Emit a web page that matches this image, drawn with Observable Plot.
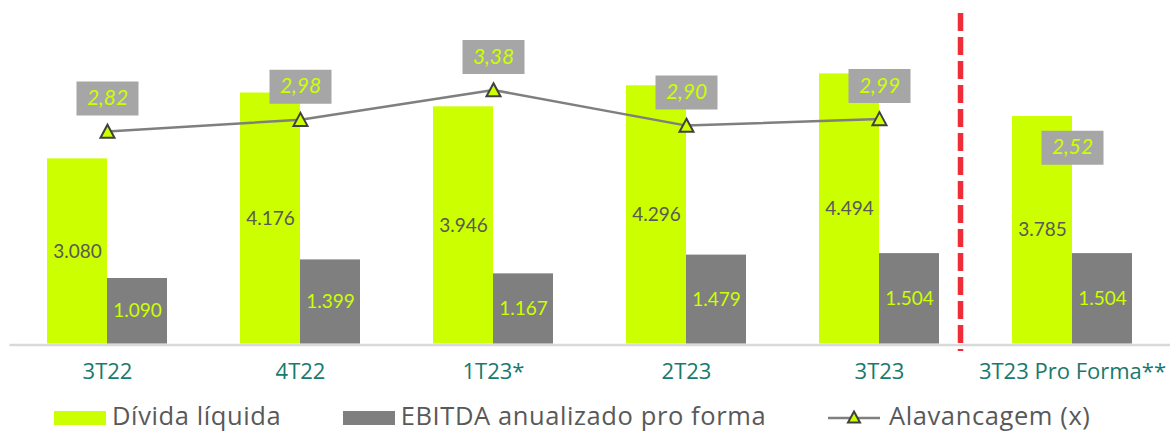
<!DOCTYPE html>
<html>
<head>
<meta charset="utf-8">
<script src="https://cdn.jsdelivr.net/npm/d3@7"></script>
<script src="https://cdn.jsdelivr.net/npm/@observablehq/plot@0.6"></script>
<style>
  html, body { margin: 0; padding: 0; background: #fff; }
  body { width: 1170px; height: 432px; position: relative; overflow: hidden; font-family: "Open Sans", Lato, sans-serif; }
  #chart { position: absolute; left: 0; top: 0; }
  #legend { position: absolute; left: 0; top: 398px; width: 1170px; height: 34px; }
  .item { position: absolute; top: 0; height: 34px; display: flex; align-items: center; color: #595959; font-size: 25.5px; line-height: 30px; font-weight: 400; letter-spacing: 0.6px; white-space: nowrap; }
  .sw { display: inline-block; width: 52px; height: 14px; margin-right: 6px; margin-top: 6px; }
  .lg { margin-right: 9px; margin-top: 6px; }
</style>
</head>
<body>
<div id="chart"></div>
<div id="legend"></div>
<script>
const categories = ["3T22", "4T22", "1T23*", "2T23", "3T23", "3T23 Pro Forma**"];
const dividaLiquida = [3080, 4176, 3946, 4296, 4494, 3785];
const ebitdaAnualizado = [1090, 1399, 1167, 1479, 1504, 1504];
const alavancagem = [2.82, 2.98, 3.38, 2.90, 2.99, 2.52];
const seriesNames = ["Dívida líquida", "EBITDA anualizado pro forma", "Alavancagem (x)"];

const LIME = "#ccff00", GRAY = "#7f7f7f", DARK = "#595959", TEAL = "#177a6c";

const rows = categories.map((c, i) => ({cat: c, div: dividaLiquida[i], ebitda: ebitdaAnualizado[i], lev: alavancagem[i]}));
const lineRows = rows.slice(0, 5);
const proForma = rows.slice(5);

const yMax = 5715;
// secondary axis for leverage, mapped onto the primary y domain
const y2 = d3.scaleLinear([-0.05, 4.59], [0, yMax]);

const fmtInt = v => d3.format(",")(v).replace(/,/g, ".");
const fmtDec = v => d3.format(".2f")(v).replace(".", ",");

const boxSymbol = { draw(ctx) { ctx.rect(-31, -17, 62, 34); } };
const triSymbol = { draw(ctx) { ctx.moveTo(0, -6.8); ctx.lineTo(7, 6.2); ctx.lineTo(-7, 6.2); ctx.closePath(); } };

const chart = Plot.plot({
  width: 1170,
  height: 398,
  marginTop: 0,
  marginBottom: 54.5,
  marginLeft: 9.5,
  marginRight: 0,
  style: { fontFamily: "Lato, 'Open Sans', sans-serif", background: "#fff" },
  x: { domain: categories, paddingInner: 0.38, paddingOuter: 0.19, label: null },
  y: { domain: [0, yMax], axis: null },
  marks: [
    Plot.ruleY([0], { stroke: "#d9d9d9", strokeWidth: 2.5, dy: 1 }),
    Plot.barY(rows, { x: "cat", y: "div", fill: LIME, insetRight: 60 }),
    Plot.barY(rows, { x: "cat", y: "ebitda", fill: GRAY, insetLeft: 60 }),
    Plot.text(rows, { x: "cat", y: d => d.div / 2, text: d => fmtInt(d.div), dx: -30, fill: DARK, fontSize: 19 }),
    Plot.text(rows, { x: "cat", y: d => d.ebitda / 2, text: d => fmtInt(d.ebitda), dx: 30, fill: LIME, fontSize: 19 }),
    Plot.ruleX([categories[4]], { x: d => d, dx: 81, stroke: "#ef2d38", strokeWidth: 5.5, strokeDasharray: "18,6", insetTop: 13, insetBottom: -7.5 }),
    Plot.line(lineRows, { x: "cat", y: d => y2(d.lev), stroke: GRAY, strokeWidth: 2.5 }),
    Plot.dot(lineRows, { x: "cat", y: d => y2(d.lev), symbol: triSymbol, fill: LIME, stroke: "#404040", strokeWidth: 2 }),
    Plot.dot(lineRows, { x: "cat", y: d => y2(d.lev), symbol: boxSymbol, fill: "#a6a6a6", stroke: null, dy: -33 }),
    Plot.text(lineRows, { x: "cat", y: d => y2(d.lev), text: d => fmtDec(d.lev), dy: -33, fill: LIME, fontSize: 21, fontStyle: "italic" }),
    Plot.dot(proForma, { x: "cat", y: d => y2(d.lev), symbol: boxSymbol, fill: "#a6a6a6", stroke: null, dy: -6 }),
    Plot.text(proForma, { x: "cat", y: d => y2(d.lev), text: d => fmtDec(d.lev), dy: -6, fill: LIME, fontSize: 21, fontStyle: "italic" }),
    Plot.axisX({ tickSize: 0, tickPadding: 19, fontSize: 22, fontFamily: "'Open Sans', sans-serif", fill: TEAL, label: null })
  ]
});
document.getElementById("chart").appendChild(chart);

// legend
const legend = document.getElementById("legend");
const lefts = [54, 342.7, 828];
seriesNames.forEach((name, i) => {
  const item = document.createElement("div");
  item.className = "item";
  item.style.left = lefts[i] + "px";
  if (i < 2) {
    const sw = document.createElement("span");
    sw.className = "sw";
    sw.style.background = i === 0 ? LIME : GRAY;
    item.appendChild(sw);
  } else {
    const ns = "http://www.w3.org/2000/svg";
    const svg = document.createElementNS(ns, "svg");
    svg.setAttribute("width", 52); svg.setAttribute("height", 20);
    svg.setAttribute("class", "lg");
    svg.innerHTML = `<line x1="0" x2="52" y1="10" y2="10" stroke="${GRAY}" stroke-width="2.5"/>` +
      `<path d="M26,3.5L32,14.5L20,14.5Z" fill="${LIME}" stroke="#404040" stroke-width="2"/>`;
    item.appendChild(svg);
  }
  const t = document.createElement("span");
  t.textContent = name;
  item.appendChild(t);
  legend.appendChild(item);
});
</script>
</body>
</html>
